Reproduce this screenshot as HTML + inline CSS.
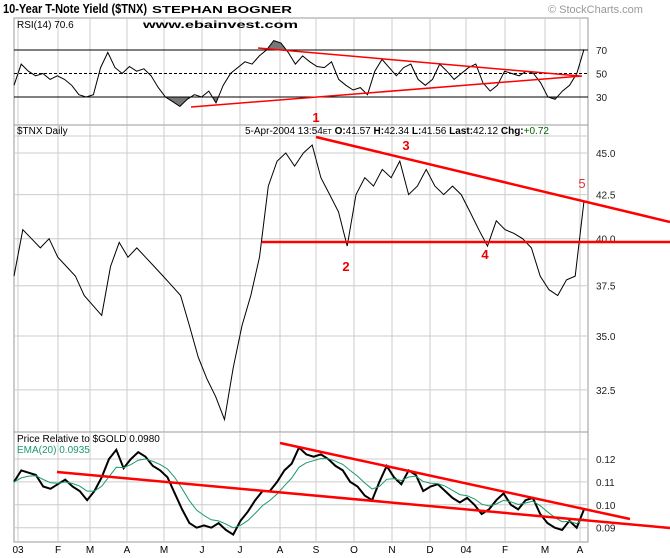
<!DOCTYPE html>
<html><head><meta charset="utf-8"><style>
body{margin:0;background:#fff;}
svg{display:block;font-family:"Liberation Sans",sans-serif;}
</style></head><body>
<svg id="c" width="670" height="558" viewBox="0 0 670 558"></svg>
<script>
const months=["03","F","M","A","M","J","J","A","S","O","N","D","04","F","M","A"];
const monthX=[18,58,90,127,164,202,240,280,316,354,392,430,466,505,545,580];
const rsiVals=[40,58,52,48,50,45,48,45,40,32,30,32,55,68,55,50,56,52,54,48,38,30,26,22,28,32,30,35,25,40,50,55,60,58,65,70,78,76,68,58,65,60,56,55,60,45,40,36,38,32,52,62,55,48,55,58,45,40,45,58,52,45,50,55,58,42,35,40,52,50,48,52,50,42,30,28,35,40,50,70.6];
const priceVals=[38,40.5,40,39.5,40,39,38.5,38,37,36.5,36,38.5,39.8,39,39.5,39,38.5,38,37.5,37,35.5,34,33,32.2,31.2,33.5,35.5,37,39,43,44.5,45,44.2,45,45.5,43.5,42.5,41.5,39.6,42.5,43.5,43,44,43.5,44.5,42.5,43,44,43,42.5,43,42.5,41.5,40.5,39.6,41,40.5,40.3,40,39.5,38,37.3,37,37.8,38,42.12];
const relVals=[0.110,0.115,0.114,0.113,0.108,0.107,0.109,0.111,0.108,0.106,0.102,0.106,0.112,0.120,0.124,0.116,0.120,0.123,0.121,0.117,0.115,0.112,0.105,0.098,0.092,0.090,0.091,0.090,0.092,0.089,0.087,0.093,0.097,0.102,0.106,0.106,0.110,0.115,0.118,0.125,0.122,0.121,0.122,0.120,0.117,0.115,0.110,0.108,0.104,0.102,0.110,0.117,0.112,0.109,0.115,0.113,0.106,0.108,0.109,0.106,0.103,0.101,0.103,0.100,0.096,0.098,0.102,0.105,0.100,0.098,0.102,0.103,0.096,0.092,0.090,0.089,0.093,0.090,0.098];
const rsiTicks=[70,50,30];
const priceTicks=[45.0,42.5,40.0,37.5,35.0,32.5];
const relTicks=[0.12,0.11,0.10,0.09];

const NS="http://www.w3.org/2000/svg";
const svg=document.getElementById('c');
function el(t,a,p){const e=document.createElementNS(NS,t);for(const k in a)e.setAttribute(k,a[k]);(p||svg).appendChild(e);return e;}
const X0=14,X1=588,XL=584;
function xi(i,n){return X0+ (XL-X0)*i/(n-1);}
const yRsi=v=>50+(70-v)*(47/40);
const yPrice=v=>153+Math.log(45/v)*728;
const yRel=v=>459+(0.12-v)*2290;

const panels=[[18,125],[125,432],[432,542]];
panels.forEach((p,k)=>{
 const r=el('rect',{x:X0,y:p[0],width:X1-X0,height:p[1]-p[0],fill:'#fff',stroke:'#999','stroke-width':1});
 
 
 monthX.forEach(x=>{const g=el('line',{x1:x,x2:x,y1:p[0],y2:p[1],stroke:'#ccc','stroke-width':1});
 });
});
const hl=el('line',{x1:X0,x2:X1,y1:136,y2:136,stroke:'#ccc'});


function txt(x,y,s,opts,name){const t=el('text',Object.assign({x:x,y:y,'font-size':10,fill:'#000'},opts||{}));t.textContent=s;
 return t;}

// RSI fills above 70 / below 30
const defs=el('defs',{});
const c1=el('clipPath',{id:'above70'},defs);el('rect',{x:X0,y:18,width:X1-X0,height:yRsi(70)-18},c1);
const c2=el('clipPath',{id:'below30'},defs);el('rect',{x:X0,y:yRsi(30),width:X1-X0,height:125-yRsi(30)},c2);
(function(){const n=rsiVals.length;
 const pts=rsiVals.map((v,i)=>xi(i,n).toFixed(1)+','+yRsi(v).toFixed(1)).join(' L');
 const f1=el('path',{d:'M'+X0+','+yRsi(70)+' L'+pts+' L'+XL+','+yRsi(70)+'Z',fill:'#777','clip-path':'url(#above70)'});
 
 const f2=el('path',{d:'M'+X0+','+yRsi(30)+' L'+pts+' L'+XL+','+yRsi(30)+'Z',fill:'#777','clip-path':'url(#below30)'});
 
})();

rsiTicks.forEach(v=>{const y=yRsi(v);
 const l=el('line',{x1:X0,x2:X1,y1:y,y2:y,stroke:'#000','stroke-width':1,'stroke-dasharray':v==50?'3,2':''});
 
 txt(596,y+4,String(v),{fill:'#222'},'rsi-tick-label');});
priceTicks.forEach(v=>{const y=yPrice(v);
 const l=el('line',{x1:X0,x2:X1,y1:y,y2:y,stroke:'#ccc'});
 
 txt(596,y+4,v.toFixed(1),{fill:'#222'},'price-tick-label');});
relTicks.forEach(v=>{const y=yRel(v);
 const l=el('line',{x1:X0,x2:X1,y1:y,y2:y,stroke:'#ccc'});
 
 txt(596,y+4,v.toFixed(2),{fill:'#222'},'relative-tick-label');});
months.forEach((m,i)=>txt(monthX[i],553,m,{'text-anchor':'middle'},'x-axis-month-label'));

function series(vals,fy,color,w,name){const n=vals.length;
 const d=vals.map((v,i)=>(i?'L':'M')+xi(i,n).toFixed(1)+','+fy(v).toFixed(1)).join('');
 const p=el('path',{d:d,fill:'none',stroke:color,'stroke-width':w});
 }
series(rsiVals,yRsi,'#000',1,'rsi-line');
series(priceVals,yPrice,'#000',1,'price-line');
series(relVals,yRel,'#000',2,'relative-line');
const ema=[];relVals.forEach((v,i)=>{ema.push(i?ema[i-1]+(v-ema[i-1])*0.35:v);});
series(ema,yRel,'#1a9a6a',1,'ema-line');

function red(x1,y1,x2,y2,w,name){const l=el('line',{x1,y1,x2,y2,stroke:'#f00','stroke-width':w});
 }
red(258,48,580,76,1.5,'rsi-upper-trendline');
red(191,107,582,76,1.5,'rsi-lower-trendline');
red(316,137,670,222,2.5,'price-resistance-trendline');
red(262,242,670,242,2.5,'price-support-line');
red(280,443,630,519,2.5,'relative-upper-trendline');
red(57,472,670,528,2.5,'relative-lower-trendline');

txt(316,122,'1',{'font-size':13,'font-weight':'bold',fill:'#e00','text-anchor':'middle'},'wave-label-1');
txt(346,271,'2',{'font-size':13,'font-weight':'bold',fill:'#e00','text-anchor':'middle'},'wave-label-2');
txt(406,150,'3',{'font-size':13,'font-weight':'bold',fill:'#e00','text-anchor':'middle'},'wave-label-3');
txt(485,259,'4',{'font-size':13,'font-weight':'bold',fill:'#e00','text-anchor':'middle'},'wave-label-4');
txt(582,188,'5',{'font-size':13,fill:'#d33','text-anchor':'middle'},'wave-label-5');

txt(3,13,'10-Year T-Note Yield ($TNX)',{'font-size':13,'font-weight':'bold',textLength:144,lengthAdjust:'spacingAndGlyphs'},'chart-title');
txt(152,13,'STEPHAN BOGNER',{'font-size':10,'font-weight':'bold',textLength:140,lengthAdjust:'spacingAndGlyphs'},'author-label');
txt(548,13,'© StockCharts.com',{'font-size':11,fill:'#999'},'copyright');
txt(17,28,'RSI(14) 70.6',{'font-size':10},'rsi-label');
txt(143,28,'www.ebainvest.com',{'font-size':10,'font-weight':'bold',textLength:155,lengthAdjust:'spacingAndGlyphs'},'website-label');
txt(17,134,'$TNX Daily',{'font-size':10},'price-panel-label');
const hdr=txt(245,134,'',{'font-size':10},'price-header');
hdr.innerHTML='5-Apr-2004 13:54<tspan font-size="7">ET</tspan> <tspan font-weight="bold">O:</tspan>41.57 <tspan font-weight="bold">H:</tspan>42.34 <tspan font-weight="bold">L:</tspan>41.56 <tspan font-weight="bold">Last:</tspan>42.12 <tspan font-weight="bold">Chg:</tspan><tspan fill="#060">+0.72</tspan>';
txt(17,442,'Price Relative to $GOLD  0.0980',{'font-size':10},'relative-label');
txt(17,453,'EMA(20) 0.0935',{'font-size':10,fill:'#1a9a6a'},'ema-label');
</script>
</body></html>
